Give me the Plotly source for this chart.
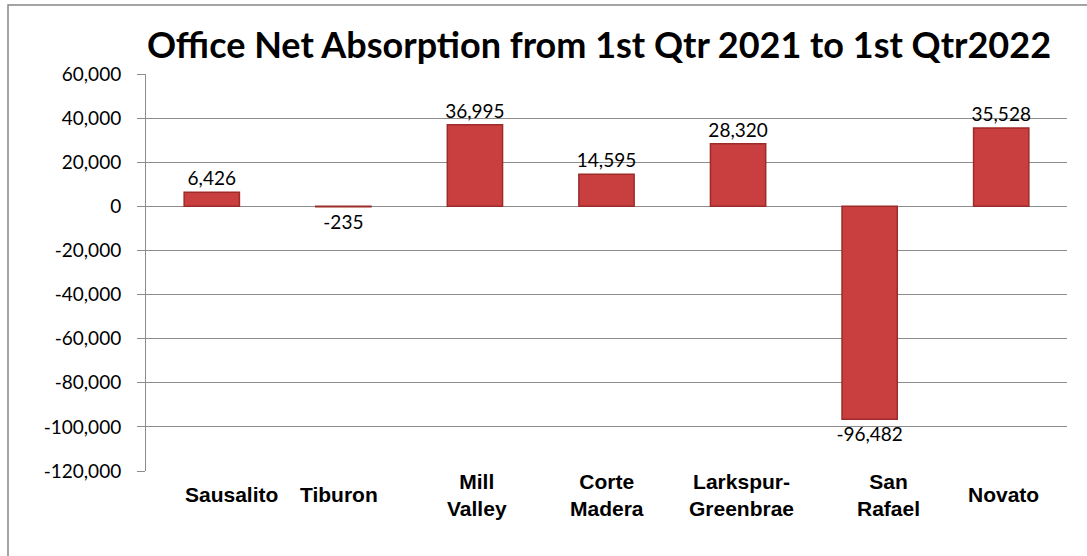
import plotly.graph_objects as go

categories = ["Sausalito", "Tiburon", "Mill Valley", "Corte Madera", "Larkspur-Greenbrae", "San Rafael", "Novato"]
cat_labels = ["Sausalito", "Tiburon", "Mill<br>Valley", "Corte<br>Madera", "Larkspur-<br>Greenbrae", "San<br>Rafael", "Novato"]
values = [6426, -235, 36995, 14595, 28320, -96482, 35528]
tick_vals = [60000, 40000, 20000, 0, -20000, -40000, -60000, -80000, -100000, -120000]
tick_text = ["60,000", "40,000", "20,000", "0", "-20,000", "-40,000", "-60,000", "-80,000", "-100,000", "-120,000"]
title_text = "Office Net Absorption from 1st Qtr 2021 to 1st Qtr2022"

# label horizontal nudges (style only), matching the reference's label placement
label_xshift = [20, -4, 2, 0, 3, 19, 2]

W, H = 1087, 556
L, R, T, B = 146, 20, 74, 85
pw, ph = W - L - R, H - T - B

fig = go.Figure()
fig.add_trace(go.Bar(
    x=categories, y=values,
    marker=dict(color="#C93E3E", line=dict(color="#9E2A2A", width=1.5)),
    text=[f"{v:,}" for v in values],
    textposition="outside",
    constraintext="none",
    textfont=dict(family="Lato", size=19, color="#000000"),
    cliponaxis=False,
    width=0.42,
))

for c, lab, dx in zip(categories, cat_labels, label_xshift):
    fig.add_annotation(x=c, xref="x", y=(H - B - 495) / ph, yref="paper",
                       text="<b>" + lab + "</b>", showarrow=False, yanchor="middle",
                       xshift=dx,
                       font=dict(family="Liberation Sans", size=21, color="#000000"),
                       align="center")

def px_x(p):
    return (p - L) / pw

def px_y(p):
    return (H - B - p) / ph

fig.add_shape(type="rect", xref="paper", yref="paper",
              x0=px_x(8), x1=px_x(1095), y0=px_y(565), y1=px_y(5),
              line=dict(color="#868686", width=1.5), fillcolor="rgba(0,0,0,0)", layer="below")

fig.update_layout(
    width=W, height=H,
    margin=dict(l=L, r=R, t=T, b=B),
    paper_bgcolor="white", plot_bgcolor="white",
    showlegend=False,
    title=dict(text="<b>" + title_text + "</b>", xref="container", x=599 / W, xanchor="center",
               yref="container", y=1 - 45 / H, yanchor="middle",
               font=dict(family="Lato", size=36, color="#000000")),
    xaxis=dict(showticklabels=False, showgrid=False, zeroline=False,
               showline=False, ticks=""),
    yaxis=dict(range=[-120000, 60000], tickvals=tick_vals, ticktext=tick_text,
               showgrid=True, gridcolor="#8C8C8C", gridwidth=1,
               zeroline=True, zerolinecolor="#8C8C8C", zerolinewidth=1,
               showline=True, linecolor="#8C8C8C", linewidth=1,
               ticks="outside", ticklen=8, tickcolor="#8C8C8C",
               ticklabelstandoff=12,
               tickfont=dict(family="Lato", size=19, color="#000000")),
)

fig.write_html("out.html", config={"displayModeBar": False},
               post_script="document.body.style.margin='0';document.body.style.overflow='hidden';")
